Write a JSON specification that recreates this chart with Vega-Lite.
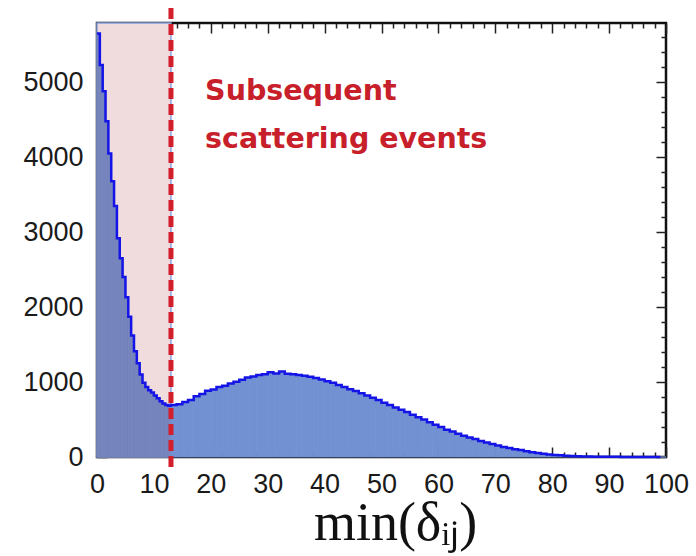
{
  "$schema": "https://vega.github.io/schema/vega-lite/v6.json",
  "width": 569,
  "height": 434,
  "autosize": {"type": "none"},
  "padding": {"left": 97, "top": 23, "right": 30, "bottom": 99},
  "background": "white",
  "config": {
    "view": {"stroke": "#111111", "strokeWidth": 2.5},
    "axis": {"labelFont": "Liberation Sans", "labelFontSize": 27, "labelColor": "#1a1a1a", "grid": false, "domain": false, "tickColor": "#222222", "tickWidth": 1.5}
  },
  "datasets": {
    "one": [{"k": 1}],
    "hist": [
      {"lo": 0, "hi": 0.5, "n": 5650}, {"lo": 0.5, "hi": 1, "n": 5230}, {"lo": 1, "hi": 1.5, "n": 4880}, {"lo": 1.5, "hi": 2, "n": 4480},
      {"lo": 2, "hi": 2.5, "n": 4050}, {"lo": 2.5, "hi": 3, "n": 3680}, {"lo": 3, "hi": 3.5, "n": 3350}, {"lo": 3.5, "hi": 4, "n": 2920},
      {"lo": 4, "hi": 4.5, "n": 2650}, {"lo": 4.5, "hi": 5, "n": 2400}, {"lo": 5, "hi": 5.5, "n": 2130}, {"lo": 5.5, "hi": 6, "n": 1870},
      {"lo": 6, "hi": 6.5, "n": 1620}, {"lo": 6.5, "hi": 7, "n": 1410}, {"lo": 7, "hi": 7.5, "n": 1250}, {"lo": 7.5, "hi": 8, "n": 1100},
      {"lo": 8, "hi": 8.5, "n": 990}, {"lo": 8.5, "hi": 9, "n": 935}, {"lo": 9, "hi": 9.5, "n": 890}, {"lo": 9.5, "hi": 10, "n": 860},
      {"lo": 10, "hi": 10.5, "n": 820}, {"lo": 10.5, "hi": 11, "n": 785}, {"lo": 11, "hi": 11.5, "n": 745}, {"lo": 11.5, "hi": 12, "n": 715},
      {"lo": 12, "hi": 12.5, "n": 695}, {"lo": 12.5, "hi": 13, "n": 685},
      {"lo": 13, "hi": 14, "n": 695}, {"lo": 14, "hi": 15, "n": 705}, {"lo": 15, "hi": 16, "n": 735},
      {"lo": 16, "hi": 17, "n": 760}, {"lo": 17, "hi": 18, "n": 810}, {"lo": 18, "hi": 19, "n": 840}, {"lo": 19, "hi": 20, "n": 885},
      {"lo": 20, "hi": 21, "n": 900}, {"lo": 21, "hi": 22, "n": 935}, {"lo": 22, "hi": 23, "n": 950}, {"lo": 23, "hi": 24, "n": 980},
      {"lo": 24, "hi": 25, "n": 1005}, {"lo": 25, "hi": 26, "n": 1030}, {"lo": 26, "hi": 27, "n": 1060}, {"lo": 27, "hi": 28, "n": 1075},
      {"lo": 28, "hi": 29, "n": 1095}, {"lo": 29, "hi": 30, "n": 1105}, {"lo": 30, "hi": 31, "n": 1130}, {"lo": 31, "hi": 32, "n": 1115},
      {"lo": 32, "hi": 33, "n": 1140}, {"lo": 33, "hi": 34, "n": 1110}, {"lo": 34, "hi": 35, "n": 1105}, {"lo": 35, "hi": 36, "n": 1095},
      {"lo": 36, "hi": 37, "n": 1085}, {"lo": 37, "hi": 38, "n": 1070}, {"lo": 38, "hi": 39, "n": 1055}, {"lo": 39, "hi": 40, "n": 1035},
      {"lo": 40, "hi": 41, "n": 1010}, {"lo": 41, "hi": 42, "n": 990}, {"lo": 42, "hi": 43, "n": 960}, {"lo": 43, "hi": 44, "n": 935},
      {"lo": 44, "hi": 45, "n": 905}, {"lo": 45, "hi": 46, "n": 880}, {"lo": 46, "hi": 47, "n": 850}, {"lo": 47, "hi": 48, "n": 820},
      {"lo": 48, "hi": 49, "n": 790}, {"lo": 49, "hi": 50, "n": 760}, {"lo": 50, "hi": 51, "n": 725}, {"lo": 51, "hi": 52, "n": 695},
      {"lo": 52, "hi": 53, "n": 660}, {"lo": 53, "hi": 54, "n": 630}, {"lo": 54, "hi": 55, "n": 600}, {"lo": 55, "hi": 56, "n": 565},
      {"lo": 56, "hi": 57, "n": 530}, {"lo": 57, "hi": 58, "n": 500}, {"lo": 58, "hi": 59, "n": 465}, {"lo": 59, "hi": 60, "n": 430},
      {"lo": 60, "hi": 61, "n": 400}, {"lo": 61, "hi": 62, "n": 365}, {"lo": 62, "hi": 63, "n": 340}, {"lo": 63, "hi": 64, "n": 310},
      {"lo": 64, "hi": 65, "n": 285}, {"lo": 65, "hi": 66, "n": 260}, {"lo": 66, "hi": 67, "n": 240}, {"lo": 67, "hi": 68, "n": 215},
      {"lo": 68, "hi": 69, "n": 195}, {"lo": 69, "hi": 70, "n": 175}, {"lo": 70, "hi": 71, "n": 155}, {"lo": 71, "hi": 72, "n": 135},
      {"lo": 72, "hi": 73, "n": 120}, {"lo": 73, "hi": 74, "n": 105}, {"lo": 74, "hi": 75, "n": 92}, {"lo": 75, "hi": 76, "n": 78},
      {"lo": 76, "hi": 77, "n": 65}, {"lo": 77, "hi": 78, "n": 55}, {"lo": 78, "hi": 79, "n": 45}, {"lo": 79, "hi": 80, "n": 35},
      {"lo": 80, "hi": 81, "n": 28}, {"lo": 81, "hi": 82, "n": 22}, {"lo": 82, "hi": 83, "n": 17}, {"lo": 83, "hi": 84, "n": 13},
      {"lo": 84, "hi": 85, "n": 10}, {"lo": 85, "hi": 86, "n": 8}, {"lo": 86, "hi": 87, "n": 6}, {"lo": 87, "hi": 88, "n": 5},
      {"lo": 88, "hi": 89, "n": 4}, {"lo": 89, "hi": 90, "n": 3}, {"lo": 90, "hi": 91, "n": 2}, {"lo": 91, "hi": 92, "n": 2},
      {"lo": 92, "hi": 93, "n": 1}, {"lo": 93, "hi": 94, "n": 1}, {"lo": 94, "hi": 95, "n": 1}, {"lo": 95, "hi": 96, "n": 1},
      {"lo": 96, "hi": 97, "n": 0}, {"lo": 97, "hi": 98, "n": 0}, {"lo": 98, "hi": 99, "n": 0}, {"lo": 99, "hi": 100, "n": 0}
    ]
  },
  "layer": [
    {
      "data": {"name": "one"},
      "mark": {"type": "rect", "fill": "#f0dcdd", "stroke": "#86a0d8", "strokeWidth": 1.5},
      "encoding": {
        "x": {"datum": 0, "type": "quantitative", "scale": {"domain": [0, 100], "nice": false, "zero": false},
              "axis": {"orient": "bottom", "values": [0, 10, 20, 30, 40, 50, 60, 70, 80, 90, 100], "ticks": false, "labelPadding": 14,
                       "labelFlush": false, "title": "min(δᵢⱼ)", "titleFont": "Liberation Serif", "titleFontSize": 54, "titleFontWeight": "normal",
                       "titleColor": "#111111", "titleX": 298, "titleY": 82, "titleBaseline": "alphabetic", "titleAlign": "center"}},
        "x2": {"datum": 13},
        "y": {"datum": 0, "type": "quantitative", "scale": {"domain": [0, 5790], "nice": false, "zero": false},
              "axis": {"orient": "left", "values": [0, 1000, 2000, 3000, 4000, 5000], "format": "d", "ticks": false, "labelPadding": 14, "labelFlush": false, "title": null}},
        "y2": {"datum": 5790}
      }
    },
    {
      "data": {"name": "hist"},
      "mark": {"type": "rect", "strokeWidth": 0.8},
      "encoding": {
        "x": {"field": "lo", "type": "quantitative", "scale": {"domain": [0, 100], "nice": false, "zero": false},
              "axis": {"orient": "bottom", "values": [0, 10, 20, 30, 40, 50, 60, 70, 80, 90, 100], "tickSize": -10, "labels": false, "title": null}},
        "x2": {"field": "hi"},
        "y": {"field": "n", "type": "quantitative", "scale": {"domain": [0, 5790], "nice": false, "zero": false},
              "axis": {"orient": "left", "values": [0, 1000, 2000, 3000, 4000, 5000], "tickSize": -10, "labels": false, "title": null}},
        "y2": {"datum": 0},
        "fill": {"condition": {"test": "datum.lo < 13", "value": "#7584bd"}, "value": "#7291d2"},
        "stroke": {"condition": {"test": "datum.lo < 13", "value": "#7584bd"}, "value": "#7291d2"}
      }
    },
    {
      "data": {"name": "hist"},
      "mark": {"type": "line", "interpolate": "step-after", "color": "#1414e6", "strokeWidth": 2.5},
      "encoding": {
        "x": {"field": "lo", "type": "quantitative", "scale": {"domain": [0, 100], "nice": false, "zero": false},
              "axis": {"orient": "top", "values": [0, 10, 20, 30, 40, 50, 60, 70, 80, 90, 100], "tickSize": -10, "labels": false, "title": null}},
        "y": {"field": "n", "type": "quantitative", "scale": {"domain": [0, 5790], "nice": false, "zero": false},
              "axis": {"orient": "right", "values": [0, 1000, 2000, 3000, 4000, 5000], "tickSize": -10, "labels": false, "title": null}}
      }
    },
    {
      "data": {"name": "one"},
      "mark": {"type": "point", "opacity": 0},
      "encoding": {
        "x": {"datum": 0, "type": "quantitative", "scale": {"domain": [0, 100], "nice": false, "zero": false},
              "axis": {"orient": "bottom", "values": [2,4,6,8,12,14,16,18,22,24,26,28,32,34,36,38,42,44,46,48,52,54,56,58,62,64,66,68,72,74,76,78,82,84,86,88,92,94,96,98], "tickSize": -5, "labels": false, "title": null}},
        "y": {"datum": 0, "type": "quantitative", "scale": {"domain": [0, 5790], "nice": false, "zero": false},
              "axis": {"orient": "left", "values": [200,400,600,800,1200,1400,1600,1800,2200,2400,2600,2800,3200,3400,3600,3800,4200,4400,4600,4800,5200,5400,5600], "tickSize": -5, "labels": false, "title": null}}
      }
    },
    {
      "data": {"name": "one"},
      "mark": {"type": "point", "opacity": 0},
      "encoding": {
        "x": {"datum": 0, "type": "quantitative", "scale": {"domain": [0, 100], "nice": false, "zero": false},
              "axis": {"orient": "top", "values": [2,4,6,8,12,14,16,18,22,24,26,28,32,34,36,38,42,44,46,48,52,54,56,58,62,64,66,68,72,74,76,78,82,84,86,88,92,94,96,98], "tickSize": -5, "labels": false, "title": null}},
        "y": {"datum": 0, "type": "quantitative", "scale": {"domain": [0, 5790], "nice": false, "zero": false},
              "axis": {"orient": "right", "values": [200,400,600,800,1200,1400,1600,1800,2200,2400,2600,2800,3200,3400,3600,3800,4200,4400,4600,4800,5200,5400,5600], "tickSize": -5, "labels": false, "title": null}}
      }
    },
    {
      "data": {"name": "one"},
      "mark": {"type": "rule", "color": "#d21f2b", "strokeWidth": 5, "strokeDash": [11, 5], "clip": false},
      "encoding": {
        "x": {"datum": 13, "type": "quantitative", "scale": {"domain": [0, 100], "nice": false, "zero": false}, "axis": null},
        "y": {"datum": -133, "type": "quantitative", "scale": {"domain": [0, 5790], "nice": false, "zero": false}, "axis": null},
        "y2": {"datum": 6000}
      }
    },
    {
      "data": {"name": "one"},
      "mark": {"type": "text", "text": ["Subsequent", "scattering events"], "font": "DejaVu Sans", "fontWeight": "bold", "fontSize": 28.5,
               "color": "#c8202a", "align": "left", "baseline": "alphabetic", "lineHeight": 48},
      "encoding": {
        "x": {"datum": 19, "type": "quantitative", "scale": {"domain": [0, 100], "nice": false, "zero": false}, "axis": null},
        "y": {"datum": 4760, "type": "quantitative", "scale": {"domain": [0, 5790], "nice": false, "zero": false}, "axis": null}
      }
    }
  ],
  "resolve": {"axis": {"x": "independent", "y": "independent"}}
}
